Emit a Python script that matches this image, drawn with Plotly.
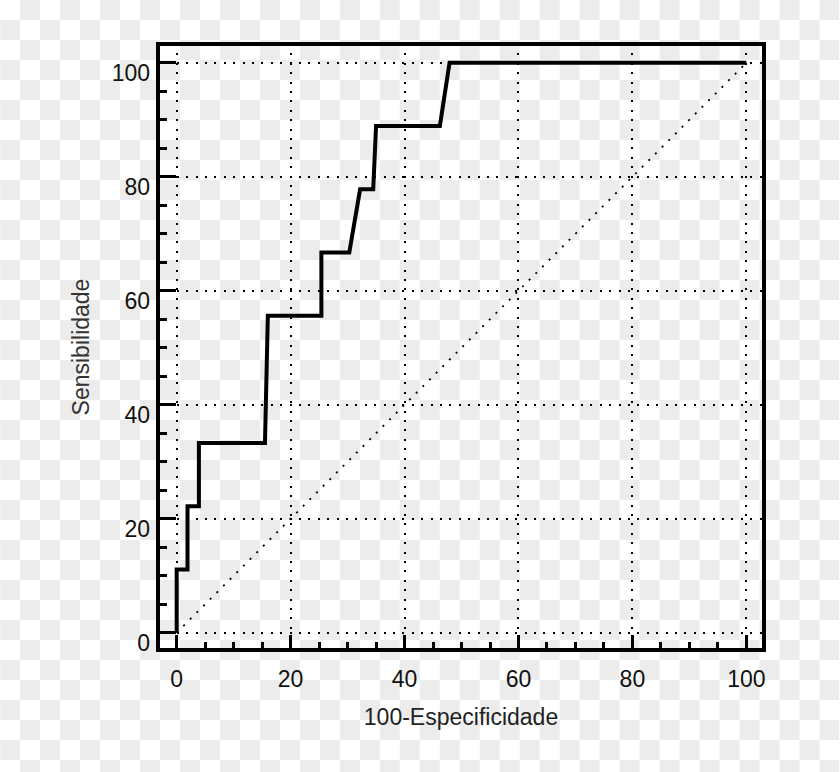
import base64
import plotly.graph_objects as go

# ROC curve
fpr = [0, 0, 1.9, 1.9, 3.9, 3.9, 15.5, 16.0, 25.4, 25.4, 30.3, 32.2, 34.5, 35.0, 46.2, 47.9, 100]
sens = [0, 11.1, 11.1, 22.2, 22.2, 33.3, 33.3, 55.6, 55.6, 66.7, 66.7, 77.8, 77.8, 88.9, 88.9, 100, 100]

diag_x = [0, 100]
diag_y = [0, 100]

tick_vals = [0, 20, 40, 60, 80, 100]

W, H = 840, 772
L, R, T, B = 158, 75.5, 44, 122
FONT = "Liberation Sans, Arial, sans-serif"

# checkerboard backdrop (transparency pattern of the source picture)
svg = (
    '<svg xmlns="http://www.w3.org/2000/svg" width="840" height="772">'
    '<defs><pattern id="p" width="40" height="40" patternUnits="userSpaceOnUse">'
    '<rect width="40" height="40" fill="#ffffff"/>'
    '<rect x="20" y="0" width="20" height="20" fill="#ececec"/>'
    '<rect x="0" y="20" width="20" height="20" fill="#ececec"/>'
    '</pattern></defs><rect width="840" height="772" fill="url(#p)"/></svg>'
)
bg_src = "data:image/svg+xml;base64," + base64.b64encode(svg.encode()).decode()

pw = W - L - R
ph = H - T - B

fig = go.Figure()
fig.add_trace(go.Scatter(
    x=diag_x, y=diag_y, mode="lines",
    line=dict(color="black", width=1.8, dash="2px,7.4px"),
    hoverinfo="skip", showlegend=False,
))
fig.add_trace(go.Scatter(
    x=fpr, y=sens, mode="lines",
    line=dict(color="black", width=4),
    showlegend=False,
))

axis_common = dict(
    tickvals=tick_vals,
    ticks="inside", tickwidth=3, tickcolor="black",
    showgrid=True, gridcolor="black", gridwidth=1.5, griddash="2px,7.4px",
    zeroline=False,
    showline=False,
    tickfont=dict(family=FONT, size=23, color="#111"),
)

fig.update_xaxes(
    range=[-3.28, 103.1],
    ticklen=15, ticklabelstandoff=13,
    minor=dict(dtick=5, ticks="inside", ticklen=8, tickwidth=3, tickcolor="black", showgrid=False),
    title=dict(text="100-Especificidade", standoff=17,
               font=dict(family=FONT, size=23, color="#222")),
    **axis_common,
)
fig.update_yaxes(
    range=[-3.04, 103.3],
    ticklen=18, ticklabelstandoff=7, ticklabelshift=10,
    minor=dict(dtick=5, ticks="inside", ticklen=9, tickwidth=3, tickcolor="black", showgrid=False),
    title=dict(text="Sensibilidade", standoff=15,
               font=dict(family=FONT, size=23, color="#333")),
    **axis_common,
)

# heavy frame around the plot area
fig.add_shape(type="rect", xref="x domain", yref="y domain", x0=0, x1=1, y0=0, y1=1,
              line=dict(color="black", width=4), layer="above")

fig.add_layout_image(dict(
    source=bg_src, xref="paper", yref="paper",
    x=-L / pw, y=1 + T / ph, sizex=W / pw, sizey=H / ph,
    xanchor="left", yanchor="top", sizing="stretch", layer="below",
))

fig.update_layout(
    width=W, height=H,
    margin=dict(l=L, r=R, t=T, b=B, autoexpand=False),
    paper_bgcolor="white", plot_bgcolor="rgba(0,0,0,0)",
)

fig.write_html("out.html", config={"displayModeBar": False},
               post_script="document.body.style.margin='0';")
